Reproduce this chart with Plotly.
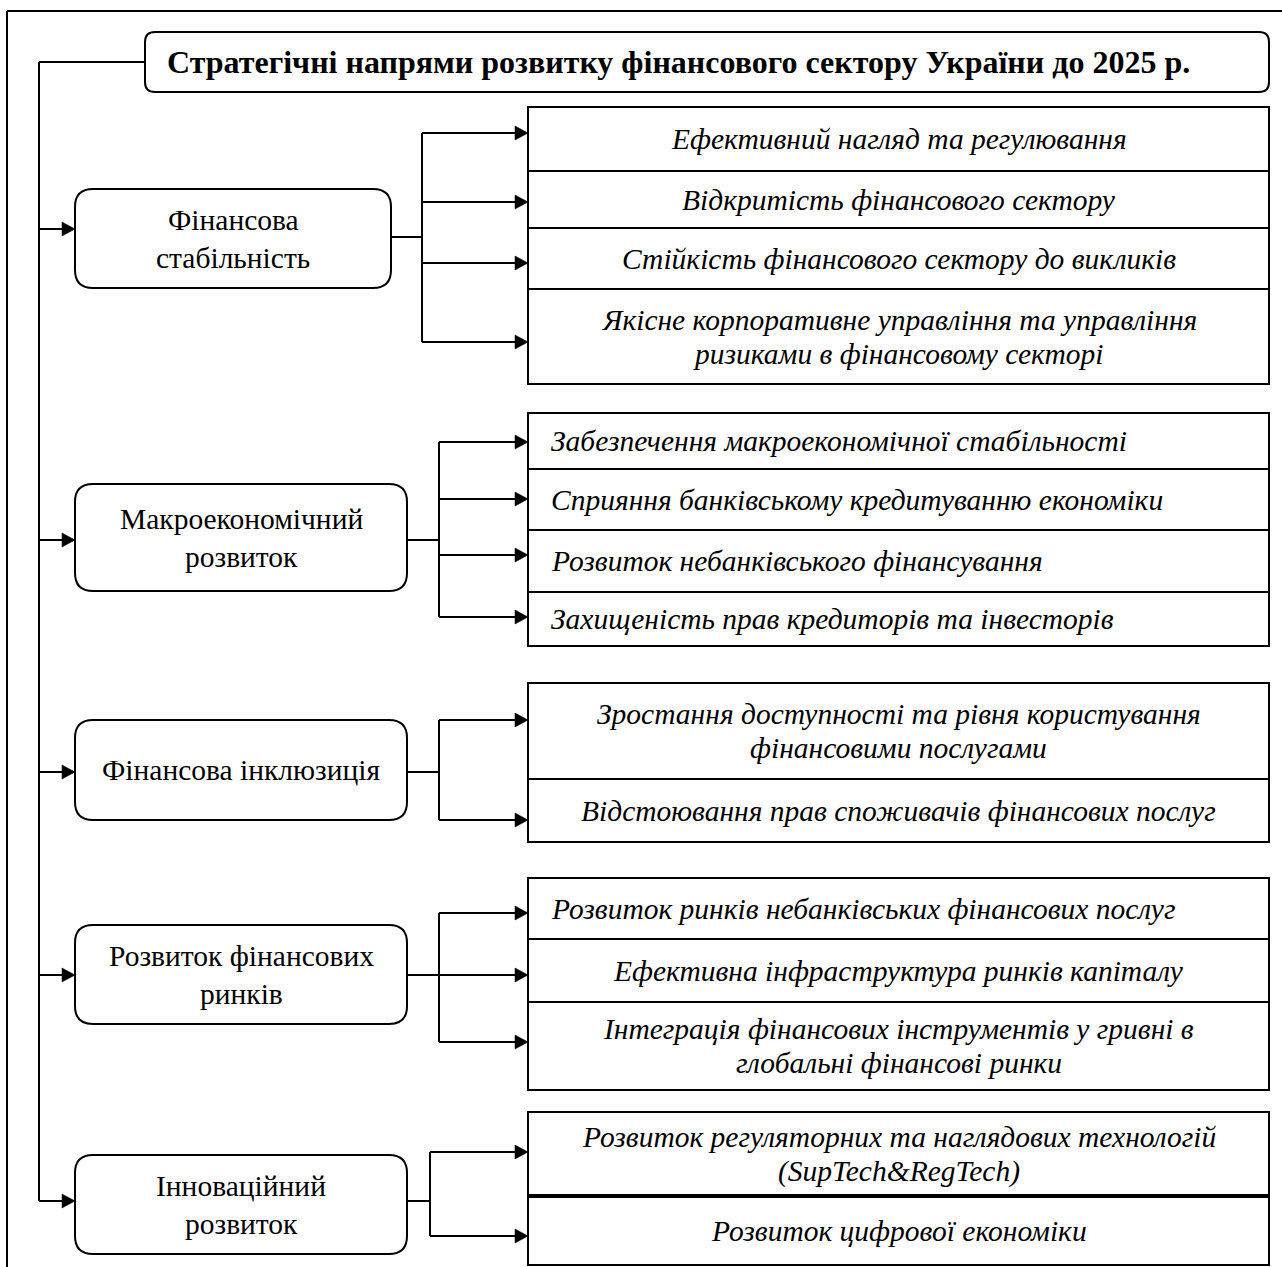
import plotly.graph_objects as go

# ---------------- text content ----------------
title_text = "Стратегічні напрями розвитку фінансового сектору України до 2025 р."
categories = [
    "Фінансова<br>стабільність",
    "Макроекономічний<br>розвиток",
    "Фінансова інклюзиція",
    "Розвиток фінансових<br>ринків",
    "Інноваційний<br>розвиток",
]
items_stability = [
    "Ефективний нагляд та регулювання",
    "Відкритість фінансового сектору",
    "Стійкість фінансового сектору до викликів",
    "Якісне корпоративне управління та управління<br>ризиками в фінансовому секторі",
]
items_macro = [
    "Забезпечення макроекономічної стабільності",
    "Сприяння банківському кредитуванню економіки",
    "Розвиток небанківського фінансування",
    "Захищеність прав кредиторів та інвесторів",
]
items_inclusion = [
    "Зростання доступності та рівня користування<br>фінансовими послугами",
    "Відстоювання прав споживачів фінансових послуг",
]
items_markets = [
    "Розвиток ринків небанківських фінансових послуг",
    "Ефективна інфраструктура ринків капіталу",
    "Інтеграція фінансових інструментів у гривні в<br>глобальні фінансові ринки",
]
items_innovation = [
    "Розвиток регуляторних та наглядових технологій<br>(SupTech&RegTech)",
    "Розвиток цифрової економіки",
]
all_items = [items_stability, items_macro, items_inclusion, items_markets, items_innovation]

# ---------------- layout geometry (pixels) ----------------
W, H = 1300, 1290  # slightly larger than the 1282x1267 window; overflow hidden
FONT = "Liberation Serif"
FS = 29.5
CAT_GAP = 38
ITEM_GAP = 34
LW = 2
TRUNK_X = 39
BOX_L = 528
BOX_R = 1269
BOX_CX = (BOX_L + BOX_R) / 2
LEFT_TX = 549

geo = [
    dict(cat=(75, 189, 391, 288), trunk_y=229, out_y=237, branch_x=422,
         arrows=[133, 202, 263, 342], rows=[107, 171, 228, 289, 384],
         align=["c", "c", "c", "c"], thick=[]),
    dict(cat=(75, 484, 407, 591), trunk_y=540, out_y=540, branch_x=439,
         arrows=[442, 499, 555, 617], rows=[413, 469, 530, 592, 646],
         align=["l", "l", "l", "l"], thick=[]),
    dict(cat=(75, 720, 407, 820), trunk_y=772, out_y=772, branch_x=439,
         arrows=[720, 820], rows=[683, 779, 842],
         align=["c", "c"], thick=[]),
    dict(cat=(75, 925, 407, 1024), trunk_y=975, out_y=975, branch_x=439,
         arrows=[913, 975, 1042], rows=[878, 939, 1002, 1090],
         align=["l", "c", "c"], thick=[]),
    dict(cat=(75, 1155, 407, 1254), trunk_y=1201, out_y=1201, branch_x=430,
         arrows=[1152, 1236], rows=[1112, 1196, 1265],
         align=["c", "c"], thick=[1]),
]

shapes = []
annotations = []


def line(x0, y0, x1, y1, w=LW):
    shapes.append(dict(type="line", x0=x0, y0=y0, x1=x1, y1=y1, xref="x", yref="y",
                       line=dict(color="black", width=w)))


def rrect(x0, y0, x1, y1, r, w=LW):
    p = (f"M {x0+r},{y0} L {x1-r},{y0} Q {x1},{y0} {x1},{y0+r} "
         f"L {x1},{y1-r} Q {x1},{y1} {x1-r},{y1} L {x0+r},{y1} "
         f"Q {x0},{y1} {x0},{y1-r} L {x0},{y0+r} Q {x0},{y0} {x0+r},{y0} Z")
    shapes.append(dict(type="path", path=p, xref="x", yref="y",
                       line=dict(color="black", width=w), fillcolor="white"))


def arrow(x0, x_tip, y):
    line(x0, y, x_tip - 10, y)
    p = f"M {x_tip},{y} L {x_tip-13},{y-7} L {x_tip-13},{y+7} Z"
    shapes.append(dict(type="path", path=p, xref="x", yref="y",
                       line=dict(color="black", width=0.5), fillcolor="black"))


def text(x, y, s, anchor="center", italic=False, bold=False, size=FS, gap=ITEM_GAP):
    lines = s.split("<br>")
    n = len(lines)
    for i, ln in enumerate(lines):
        yy = y + (i - (n - 1) / 2) * gap
        t = f"<b>{ln}</b>" if bold else ln
        annotations.append(dict(x=x, y=yy, xref="x", yref="y", text=t, showarrow=False,
                                xanchor=anchor, yanchor="middle",
                                font=dict(family=FONT, size=size, color="black",
                                          style="italic" if italic else "normal")))


# outer frame (left and top only)
line(7, H, 7, 11)
line(7, 11, W, 11)

# title box and trunk
TITLE = (145, 32, 1269, 92)
rrect(*TITLE, 10)
text(165, (TITLE[1] + TITLE[3]) / 2, title_text, anchor="left", bold=True, size=32)
line(TRUNK_X, (TITLE[1] + TITLE[3]) / 2, TITLE[0], (TITLE[1] + TITLE[3]) / 2)
line(TRUNK_X, (TITLE[1] + TITLE[3]) / 2, TRUNK_X, geo[-1]["trunk_y"])

for g, cat, items in zip(geo, categories, all_items):
    x0, y0, x1, y1 = g["cat"]
    arrow(TRUNK_X, x0, g["trunk_y"])
    rrect(x0, y0, x1, y1, 18)
    text((x0 + x1) / 2, (y0 + y1) / 2, cat, gap=CAT_GAP)
    bx = g["branch_x"]
    line(x1, g["out_y"], bx, g["out_y"])
    line(bx, min(g["arrows"]), bx, max(g["arrows"]))
    rows = g["rows"]
    shapes.append(dict(type="rect", x0=BOX_L, x1=BOX_R, y0=rows[0], y1=rows[-1],
                       xref="x", yref="y", line=dict(color="black", width=LW)))
    for k in range(1, len(rows) - 1):
        line(BOX_L, rows[k], BOX_R, rows[k], w=4 if k in g["thick"] else LW)
    for ay in g["arrows"]:
        arrow(bx, BOX_L, ay)
    for k, it in enumerate(items):
        cy = (rows[k] + rows[k + 1]) / 2
        if g["align"][k] == "l":
            text(LEFT_TX, cy, it, anchor="left", italic=True)
        else:
            text(BOX_CX, cy, it, anchor="center", italic=True)

fig = go.Figure()
fig.update_layout(
    width=W, height=H,
    margin=dict(l=0, r=0, t=0, b=0),
    paper_bgcolor="white", plot_bgcolor="white",
    xaxis=dict(range=[0, W], visible=False, fixedrange=True),
    yaxis=dict(range=[H, 0], visible=False, fixedrange=True),
    shapes=shapes, annotations=annotations, showlegend=False,
)
fig.write_html("out.html", config={"displayModeBar": False},
               post_script="document.body.style.margin='0px';document.body.style.overflow='hidden';"
                           "document.documentElement.style.overflow='hidden';")
